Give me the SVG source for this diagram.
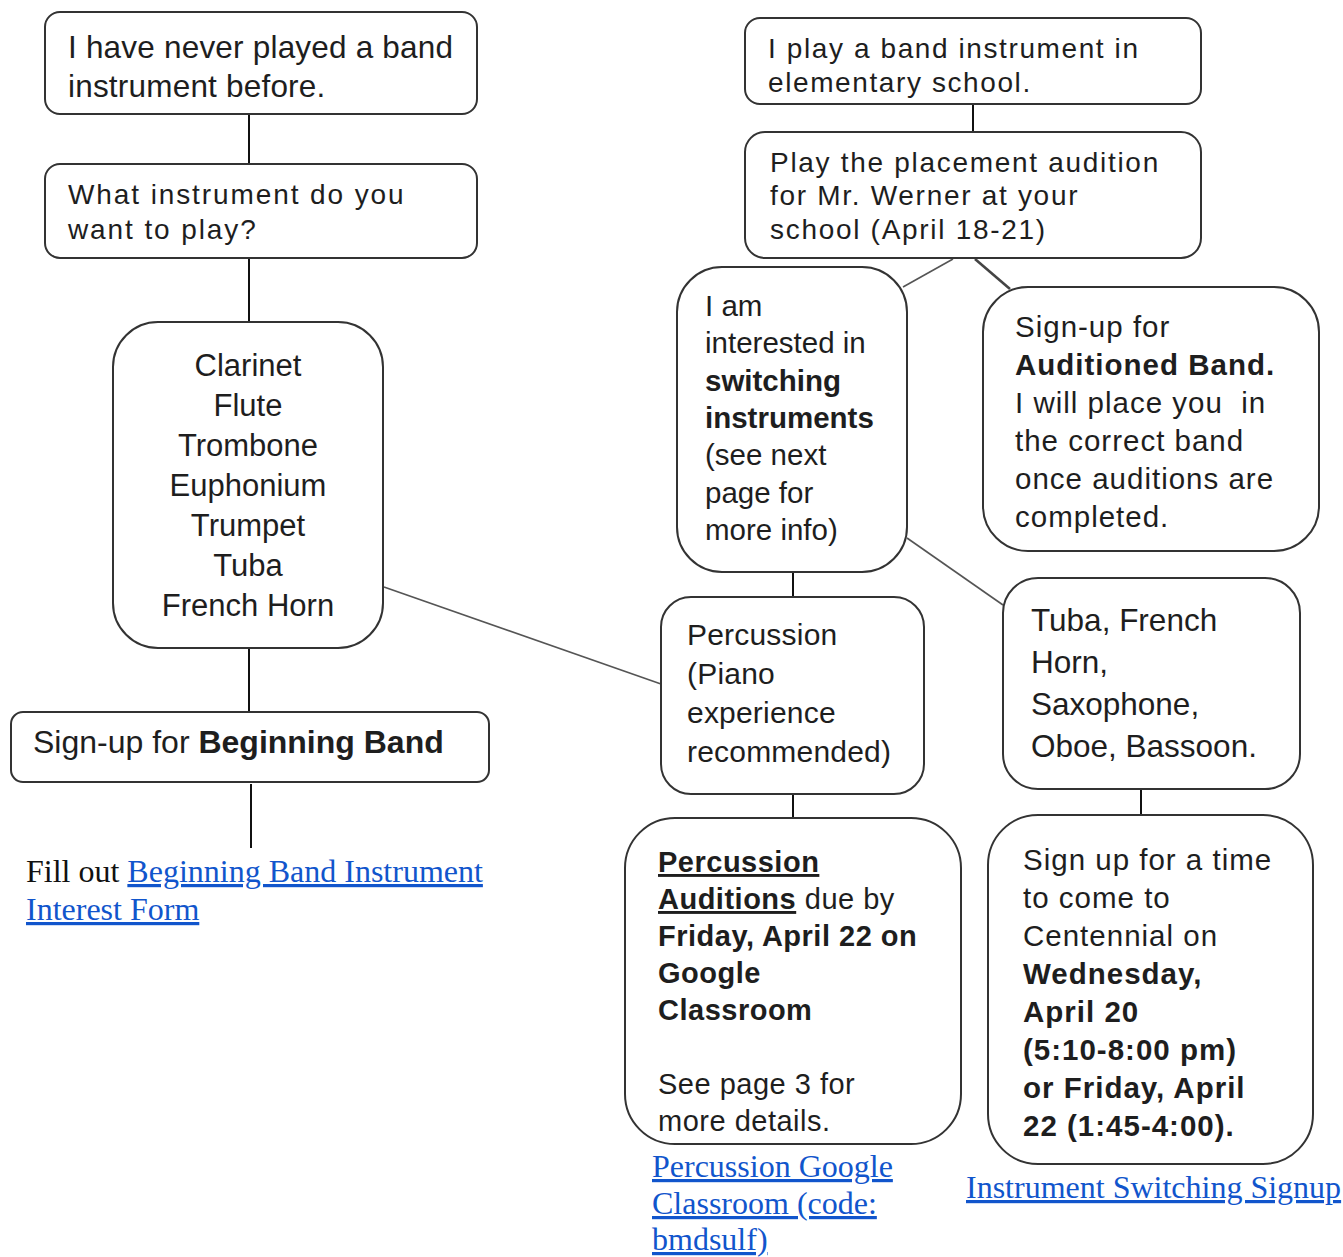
<svg xmlns="http://www.w3.org/2000/svg" width="1343" height="1257" viewBox="0 0 1343 1257">
<style>
.box{fill:#fff;stroke:#333;stroke-width:2}
.t{font-family:"Liberation Sans",Arial,sans-serif;fill:#1e1e1e}
.b{font-weight:bold}
.u{text-decoration:underline}
.serif{font-family:"Liberation Serif","Times New Roman",serif;font-size:32px;fill:#111}
.link{fill:#1155cc;text-decoration:underline}
.conn{stroke:#111;stroke-width:2;fill:none}
.diag{stroke:#555;stroke-width:1.6;fill:none}
</style>
<rect width="1343" height="1257" fill="#fff"/>
<g id="connectors">
<line class="conn" x1="249" y1="114" x2="249" y2="164"/>
<line class="conn" x1="249" y1="258" x2="249" y2="322"/>
<line class="conn" x1="249" y1="648" x2="249" y2="712"/>
<line class="conn" x1="251" y1="784" x2="251" y2="848"/>
<line class="conn" x1="973" y1="104" x2="973" y2="132"/>
<line class="diag" x1="953" y1="259" x2="903" y2="287"/>
<line class="diag" x1="975" y1="259" x2="1010" y2="289" style="stroke-width:2.6;stroke:#444"/>
<line class="diag" x1="907" y1="538" x2="1003" y2="605"/>
<line class="diag" x1="384" y1="587" x2="661" y2="684"/>
<line class="conn" x1="793" y1="572" x2="793" y2="597"/>
<line class="conn" x1="793" y1="794" x2="793" y2="818"/>
<line class="conn" x1="1141" y1="790" x2="1141" y2="815"/>
</g>
<g id="never-played">
<rect class="box" x="45" y="12" width="432" height="102" rx="15"/>
<text class="t" font-size="31.5" letter-spacing="0.2"><tspan x="68" y="58">I have never played a band</tspan><tspan x="68" y="97">instrument before.</tspan></text>
</g>
<g id="what-instrument">
<rect class="box" x="45" y="164" width="432" height="94" rx="15"/>
<text class="t" font-size="28" letter-spacing="1.9"><tspan x="68" y="204">What instrument do you</tspan><tspan x="68" y="239">want to play?</tspan></text>
</g>
<g id="instrument-list">
<rect class="box" x="113" y="322" width="270" height="326" rx="45"/>
<text class="t" font-size="31" text-anchor="middle"><tspan x="248" y="376">Clarinet</tspan><tspan x="248" y="416">Flute</tspan><tspan x="248" y="456">Trombone</tspan><tspan x="248" y="496">Euphonium</tspan><tspan x="248" y="536">Trumpet</tspan><tspan x="248" y="576">Tuba</tspan><tspan x="248" y="616">French Horn</tspan></text>
</g>
<g id="beginning-band">
<rect class="box" x="11" y="712" width="478" height="70" rx="12"/>
<text class="t" font-size="32" x="33" y="753">Sign-up for <tspan class="b">Beginning Band</tspan></text>
</g>
<g id="interest-form">
<text class="serif"><tspan x="26" y="882">Fill out <tspan class="link">Beginning Band Instrument</tspan></tspan><tspan x="26" y="920" class="link">Interest Form</tspan></text>
</g>
<g id="elementary">
<rect class="box" x="745" y="18" width="456" height="86" rx="15"/>
<text class="t" font-size="28" letter-spacing="1.6"><tspan x="768" y="58">I play a band instrument in</tspan><tspan x="768" y="92">elementary school.</tspan></text>
</g>
<g id="placement-audition">
<rect class="box" x="745" y="132" width="456" height="126" rx="20"/>
<text class="t" font-size="28" letter-spacing="1.7"><tspan x="770" y="172">Play the placement audition</tspan><tspan x="770" y="205">for Mr. Werner at your</tspan><tspan x="770" y="239">school (April 18-21)</tspan></text>
</g>
<g id="switching">
<rect class="box" x="677" y="267" width="230" height="305" rx="45"/>
<text class="t" font-size="29.5"><tspan x="705" y="316">I am</tspan><tspan x="705" y="353">interested in</tspan><tspan x="705" y="391" class="b">switching</tspan><tspan x="705" y="428" class="b">instruments</tspan><tspan x="705" y="465">(see next</tspan><tspan x="705" y="503">page for</tspan><tspan x="705" y="540">more info)</tspan></text>
</g>
<g id="auditioned-band">
<rect class="box" x="983" y="287" width="336" height="264" rx="45"/>
<text class="t" font-size="29.5" letter-spacing="1"><tspan x="1015" y="337">Sign-up for</tspan><tspan x="1015" y="375" class="b">Auditioned Band.</tspan><tspan x="1015" y="413" xml:space="preserve">I will place you  in</tspan><tspan x="1015" y="451">the correct band</tspan><tspan x="1015" y="489">once auditions are</tspan><tspan x="1015" y="527">completed.</tspan></text>
</g>
<g id="percussion">
<rect class="box" x="661" y="597" width="263" height="197" rx="30"/>
<text class="t" font-size="30" letter-spacing="0.2"><tspan x="687" y="645">Percussion</tspan><tspan x="687" y="684">(Piano</tspan><tspan x="687" y="723">experience</tspan><tspan x="687" y="762">recommended)</tspan></text>
</g>
<g id="switch-instruments">
<rect class="box" x="1003" y="578" width="297" height="211" rx="35"/>
<text class="t" font-size="31.5"><tspan x="1031" y="631">Tuba, French</tspan><tspan x="1031" y="673">Horn,</tspan><tspan x="1031" y="715">Saxophone,</tspan><tspan x="1031" y="757">Oboe, Bassoon.</tspan></text>
</g>
<g id="percussion-auditions">
<rect class="box" x="625" y="818" width="336" height="326" rx="50"/>
<text class="t" font-size="29" letter-spacing="0.5"><tspan x="658" y="872" class="b u">Percussion</tspan><tspan x="658" y="909"><tspan class="b u">Auditions</tspan> due by</tspan><tspan x="658" y="946" class="b">Friday, April 22 on</tspan><tspan x="658" y="983" class="b">Google</tspan><tspan x="658" y="1020" class="b">Classroom</tspan><tspan x="658" y="1094">See page 3 for</tspan><tspan x="658" y="1131">more details.</tspan></text>
</g>
<g id="switching-signup-time">
<rect class="box" x="988" y="815" width="325" height="349" rx="50"/>
<text class="t" font-size="29.5" letter-spacing="1"><tspan x="1023" y="870">Sign up for a time</tspan><tspan x="1023" y="908">to come to</tspan><tspan x="1023" y="946">Centennial on</tspan><tspan x="1023" y="984" class="b">Wednesday,</tspan><tspan x="1023" y="1022" class="b">April 20</tspan><tspan x="1023" y="1060" class="b">(5:10-8:00 pm)</tspan><tspan x="1023" y="1098" class="b">or Friday, April</tspan><tspan x="1023" y="1136" class="b">22 (1:45-4:00).</tspan></text>
</g>
<g id="percussion-classroom-link">
<text class="serif link"><tspan x="652" y="1177">Percussion Google</tspan><tspan x="652" y="1214">Classroom (code:</tspan><tspan x="652" y="1250">bmdsulf)</tspan></text>
</g>
<g id="switching-signup-link">
<text class="serif link" x="966" y="1198">Instrument Switching Signup</text>
</g>
</svg>
